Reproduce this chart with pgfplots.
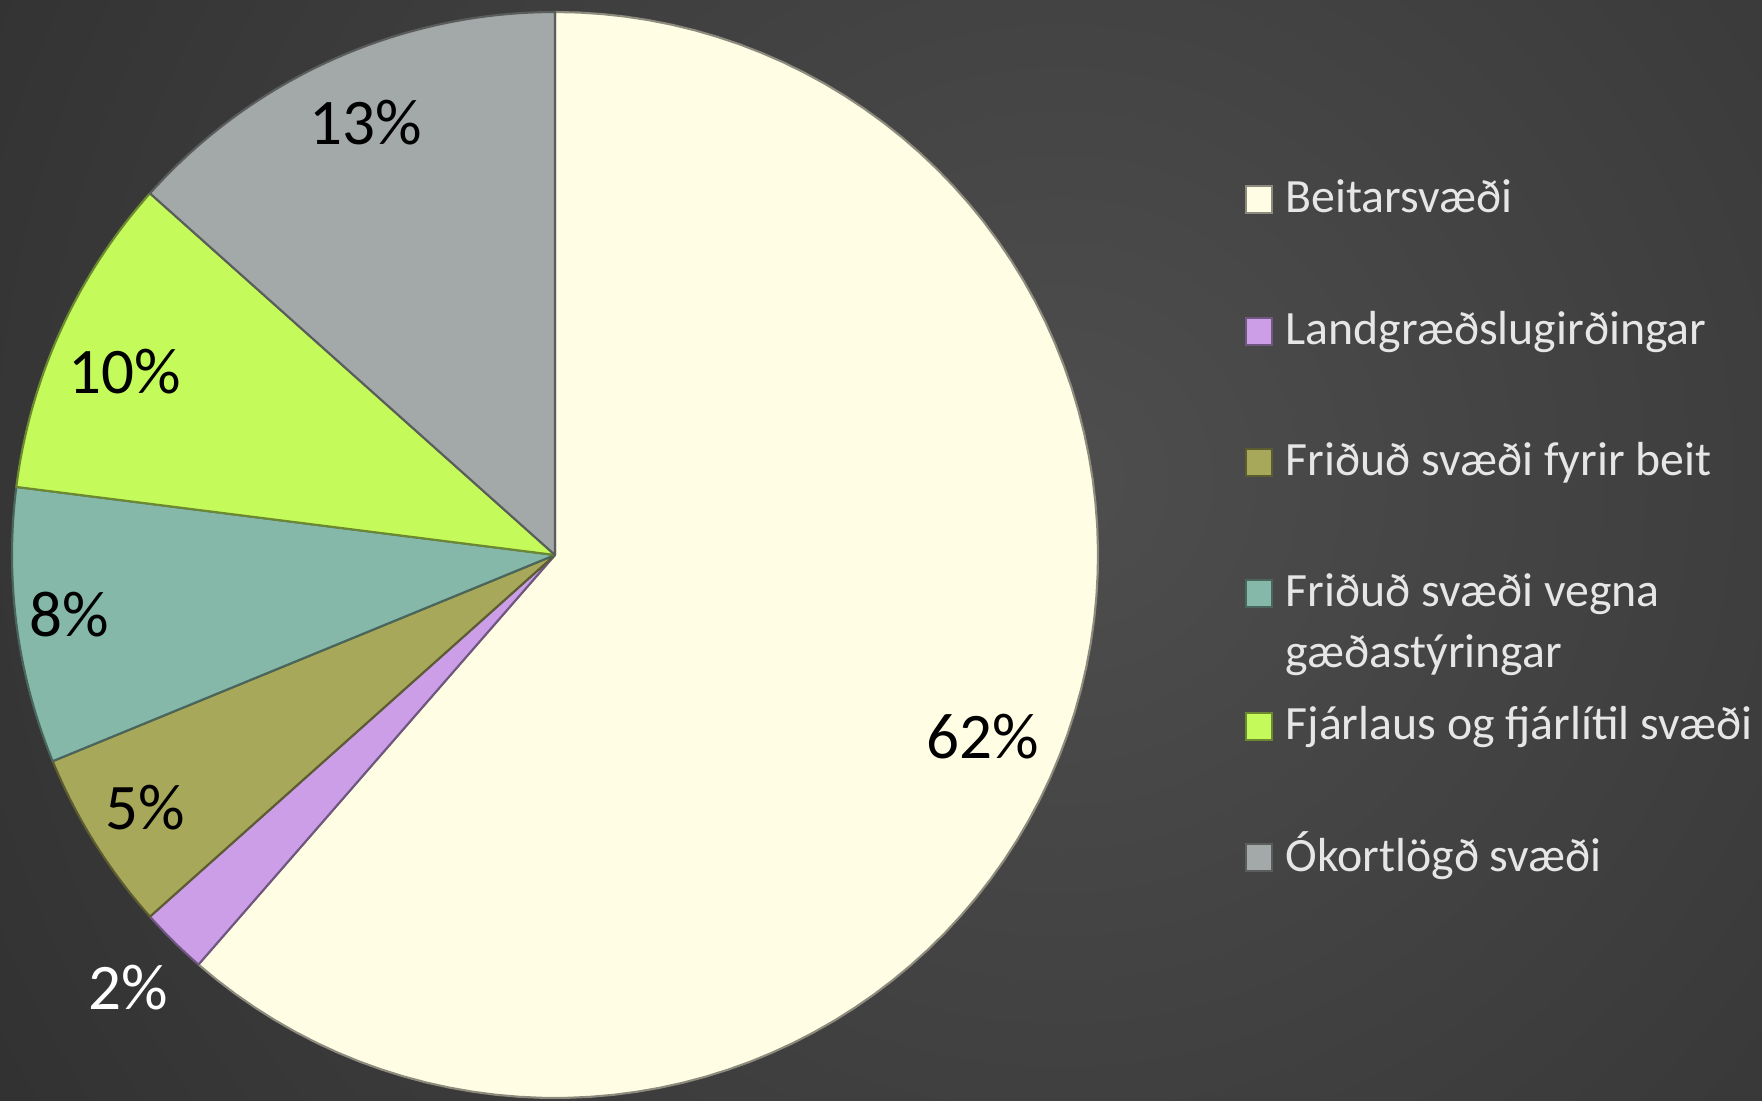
\documentclass[border=0pt]{standalone}
\usepackage{pgfplots}
\pgfplotsset{compat=1.18}
\usepackage{pgfplotstable}
\usepackage{fontspec}
\setmainfont{Carlito}
\definecolor{c0}{HTML}{FFFDE3}
\definecolor{c1}{HTML}{CC9EE8}
\definecolor{c2}{HTML}{A8A85A}
\definecolor{c3}{HTML}{85B8A8}
\definecolor{c4}{HTML}{C4FA5A}
\definecolor{c5}{HTML}{A3A9A8}
\definecolor{bglight}{HTML}{4E4E4E}
\definecolor{bgdark}{HTML}{282828}
\definecolor{legtext}{HTML}{E6E6E6}

% value = share in percent (as drawn); shown = printed label; lx, ly = label position (pie radius = 1)
\pgfplotstableread{
value shown lx ly
61.4 62 0.788 -0.335
2.0 2 -0.786 -0.796
5.4 5 -0.754 -0.466
8.2 8 -0.895 -0.110
9.6 10 -0.793 0.337
13.4 13 -0.349 0.797
}\piedata

\begin{document}
\begin{tikzpicture}
\begin{scope}
\clip (0,0) rectangle (176.2mm,110mm);
\fill[bgdark] (0,0) rectangle (176.2mm,110mm);
\shade[inner color=bglight, outer color=bgdark] (106mm,62mm) circle (165mm);
\end{scope}
\begin{axis}[
  at={(55.5mm,54.5mm)}, anchor=center,
  scale only axis, width=108.6mm, height=108.6mm,
  xmin=-1, xmax=1, ymin=-1, ymax=1,
  hide axis, clip=false,
]
\gdef\cum{0}
\pgfplotsinvokeforeach{0,...,5}{
  \pgfplotstablegetelem{#1}{value}\of\piedata
  \xdef\v{\pgfplotsretval}
  \pgfmathsetmacro\a{90-3.6*\cum}
  \pgfmathsetmacro\b{90-3.6*(\cum+\v)}
  \pgfmathsetmacro\c{\cum+\v}
  \xdef\cum{\c}
  \edef\temp{\noexpand\addplot[fill=c#1, draw=c#1!55!black, line width=0.6pt,
     line join=round, no markers, domain=\b:\a, samples=90]
     ({cos(x)},{sin(x)}) -- (axis cs:0,0) -- cycle;}
  \temp
}
\pgfplotsinvokeforeach{0,...,5}{
  \pgfplotstablegetelem{#1}{shown}\of\piedata \xdef\v{\pgfplotsretval}
  \pgfplotstablegetelem{#1}{lx}\of\piedata \xdef\lx{\pgfplotsretval}
  \pgfplotstablegetelem{#1}{ly}\of\piedata \xdef\ly{\pgfplotsretval}
  \ifnum#1=1 \gdef\lc{white}\else\gdef\lc{black}\fi
  \edef\temp{\noexpand\node[inner sep=0pt, anchor=center, text=\lc,
     font=\noexpand\fontsize{18.5}{20}\noexpand\selectfont]
     at (axis cs:\lx,\ly) {\v\noexpand\%};}
  \temp
}
\end{axis}
% legend
\foreach \i/\yb/\txt in {0/213/Beitarsvæði, 1/345/Landgræðslugirðingar,
  2/476/Friðuð svæði fyrir beit, 3/607/Friðuð svæði vegna,
  4/740/Fjárlaus og fjárlítil svæði, 5/871/Ókortlögð svæði}{
  \pgfmathsetmacro\yy{(1100-\yb)/10}
  \fill[c\i, draw=c\i!55!black, line width=0.4pt]
     (124.6mm,\yy mm) rectangle (127.2mm,\yy mm+2.7mm);
  \node[anchor=base west, inner sep=0pt, text=legtext,
     font=\fontsize{13.6}{16}\selectfont] at (128.5mm,\yy mm) {\txt};
}
\node[anchor=base west, inner sep=0pt, text=legtext,
   font=\fontsize{13.6}{16}\selectfont] at (128.5mm,43.2mm) {gæðastýringar};
\pgfresetboundingbox
\useasboundingbox (0,0) rectangle (176.2mm,110mm);
\end{tikzpicture}
\end{document}
